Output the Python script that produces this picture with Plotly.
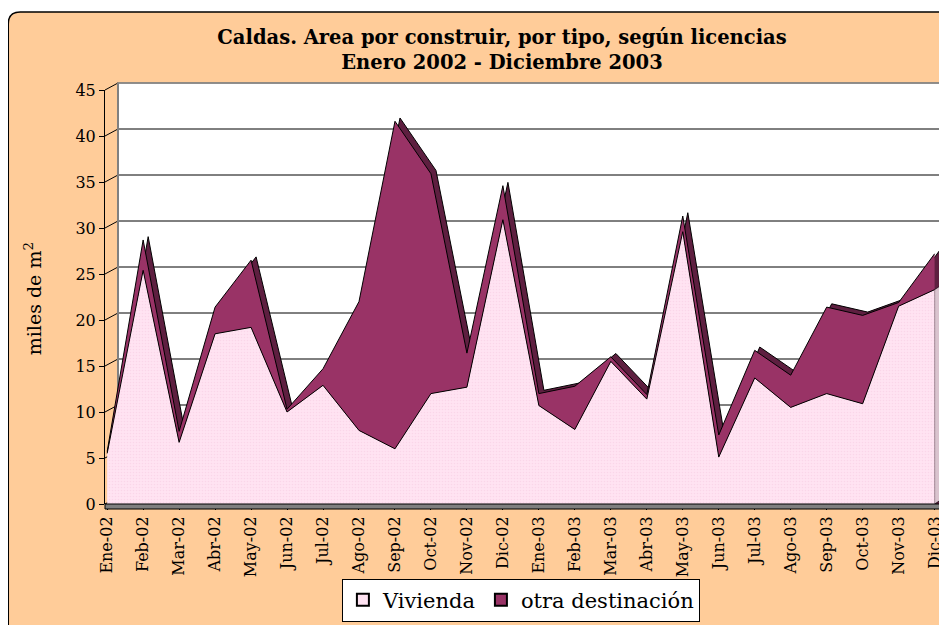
import plotly.graph_objects as go

# ---------------- data ----------------
meses = ["Ene-02", "Feb-02", "Mar-02", "Abr-02", "May-02", "Jun-02", "Jul-02", "Ago-02",
         "Sep-02", "Oct-02", "Nov-02", "Dic-02", "Ene-03", "Feb-03", "Mar-03", "Abr-03",
         "May-03", "Jun-03", "Jul-03", "Ago-03", "Sep-03", "Oct-03", "Nov-03", "Dic-03"]
vivienda = [5.5, 25.4, 6.7, 18.5, 19.2, 10.0, 12.9, 8.0, 6.0, 12.0, 12.7, 30.9,
            10.7, 8.1, 15.5, 11.4, 29.6, 5.1, 13.7, 10.5, 12.0, 10.9, 21.5, 23.3]
otra = [0.2, 3.3, 1.2, 2.9, 7.3, 0.3, 1.8, 14.0, 35.6, 23.9, 3.7, 3.7,
        1.3, 4.7, 0.5, 0.5, 1.7, 2.4, 3.0, 3.5, 9.4, 9.6, 0.4, 3.9]
ytick_vals = [0, 5, 10, 15, 20, 25, 30, 35, 40, 45]

titulo = "<b>Caldas. Area por construir, por tipo, según licencias<br>Enero 2002 - Diciembre 2003</b>"
ytitulo = "miles de m<sup>2</sup>"
serie_names = ["Vivienda", "otra destinación"]

# ---------------- geometry (reference-page pixels) ----------------
PW, PH = 947, 625          # page size
OFF = 8                    # default body margin of the html page
FW, FH = PW - OFF, PH - OFF
L, R, T, B = 104.8, 940.4, 90.0, 504.0
XMIN, XMAX = -0.06, 23.15
YMIN, YMAX = 0, 45
DX, DY = 13, 7            # depth of the back wall (px)
WALL_R = 944
SX, SY = 0.14, 0.36       # depth shift of the area's top face (data units)

def px(x):
    return (x - L) / (R - L)

def py(y):
    return (B - y) / (B - T)

def yv(v):  # pixel of value v on front plane
    return B - (v - YMIN) / (YMAX - YMIN) * (B - T)

FONT = "DejaVu Serif"
PEACH = "#FFCC99"
PINK = "#FFE3F2"
PINK_SIDE = "#D9C3CE"
PLUM = "#993366"
PLUM_DARK = "#5E1F40"

idx = list(range(len(meses)))
total = [v + o for v, o in zip(vivienda, otra)]

fig = go.Figure()

# 3D depth: top face of the stacked area (shifted copy of the total)
fig.add_trace(go.Scatter(
    x=[i + SX for i in idx], y=[t + SY for t in total],
    mode="lines", fill="tozeroy", fillcolor=PLUM_DARK,
    line=dict(color="black", width=1), showlegend=False, hoverinfo="skip"))
# right-end side face of the Vivienda layer
xe, ve = idx[-1], vivienda[-1]
fig.add_trace(go.Scatter(
    x=[xe, xe + SX, xe + SX, xe, xe], y=[0, SY, ve + SY, ve, 0],
    mode="lines", fill="toself", fillcolor=PINK_SIDE,
    line=dict(color="black", width=0.6), showlegend=False, hoverinfo="skip"))

fig.add_trace(go.Scatter(
    x=idx, y=vivienda, mode="lines", fill="tozeroy",
    fillcolor=PINK,
    fillpattern=dict(shape=".", size=3, solidity=0.25, fgcolor="#F6C9DF", bgcolor=PINK),
    line=dict(color="black", width=1), showlegend=False, hoverinfo="skip"))

fig.add_trace(go.Scatter(
    x=idx, y=total, mode="lines", fill="tonexty", fillcolor=PLUM,
    line=dict(color="black", width=1), showlegend=False, hoverinfo="skip"))

# legend-only entries with square symbols
for name, col in zip(serie_names, [PINK, PLUM]):
    fig.add_trace(go.Scatter(
        x=[None], y=[None], mode="markers", name=name,
        marker=dict(symbol="square", size=14, color=col, line=dict(color="black", width=1))))

shapes = []
# chart area rounded rectangle
r = 12
x0, y0, x1, y1 = 8, 12, PW + 10, PH + 10
path = (f"M {px(x0)},{py(y0 + r)} "
        f"Q {px(x0)},{py(y0)} {px(x0 + r)},{py(y0)} "
        f"L {px(x1)},{py(y0)} L {px(x1)},{py(y1)} L {px(x0)},{py(y1)} Z")
shapes.append(dict(type="path", path=path, xref="paper", yref="paper",
                   fillcolor=PEACH, line=dict(color="black", width=1.5), layer="below"))
# back wall
shapes.append(dict(type="rect", xref="paper", yref="paper",
                   x0=px(L + DX), x1=px(WALL_R), y0=py(B - DY), y1=py(T - DY),
                   fillcolor="white", line=dict(color="#808080", width=1.5), layer="below"))
# gridlines on the back wall + connectors on the side wall
for v in ytick_vals[1:]:
    y = yv(v) - DY
    shapes.append(dict(type="line", xref="paper", yref="paper",
                       x0=px(L + DX), x1=px(WALL_R), y0=py(y), y1=py(y),
                       line=dict(color="#808080" if v == YMAX else "black", width=1), layer="below"))
for v in ytick_vals:
    shapes.append(dict(type="line", xref="paper", yref="paper",
                       x0=px(L), x1=px(L + DX), y0=py(yv(v)), y1=py(yv(v) - DY),
                       line=dict(color="black", width=1), layer="below"))
# left wall edge
shapes.append(dict(type="line", xref="paper", yref="paper",
                   x0=px(L + DX), x1=px(L + DX), y0=py(B - DY), y1=py(T - DY),
                   line=dict(color="#808080", width=2), layer="below"))
# floor slab
shapes.append(dict(type="path", xref="paper", yref="paper",
                   path=(f"M {px(L)},{py(B)} L {px(R)},{py(B)} L {px(R)},{py(B + 5)} "
                         f"L {px(L)},{py(B + 5)} Z"),
                   fillcolor="#7F7F7F", line=dict(color="black", width=1), layer="above"))
shapes.append(dict(type="path", xref="paper", yref="paper",
                   path=(f"M {px(R)},{py(B)} L {px(WALL_R)},{py(B - DY + 1)} "
                         f"L {px(WALL_R)},{py(B - DY + 5)} L {px(R)},{py(B + 5)} Z"),
                   fillcolor="#A6A6A6", line=dict(color="black", width=1), layer="above"))

annotations = [dict(text=ytitulo, x=px(33), y=py(299), xref="paper", yref="paper",
                    xanchor="center", yanchor="middle", textangle=-90, showarrow=False,
                    font=dict(family=FONT, size=19, color="black"))]

fig.update_layout(
    width=FW, height=FH,
    margin=dict(l=L - OFF, r=PW - R, t=T - OFF, b=PH - B, autoexpand=False),
    paper_bgcolor="white", plot_bgcolor="rgba(0,0,0,0)",
    title=dict(text=titulo, x=(502 - OFF) / FW, xanchor="center",
               y=1 - (44 - OFF) / FH, yanchor="middle",
               font=dict(family=FONT, size=19.5, color="black")),
    xaxis=dict(range=[XMIN, XMAX], tickmode="array", tickvals=idx, ticktext=meses,
               tickangle=-90, ticks="outside", ticklen=5, tickcolor="black",
               showgrid=False, zeroline=False, showline=False,
               tickfont=dict(family=FONT, size=16, color="black")),
    yaxis=dict(range=[YMIN, YMAX], tickmode="array", tickvals=ytick_vals,
               ticks="outside", ticklen=5, tickcolor="black",
               showgrid=False, zeroline=False, showline=True, linecolor="black", linewidth=1,
               tickfont=dict(family=FONT, size=16, color="black")),
    legend=dict(orientation="h", x=px(521), xanchor="center", y=py(600), yanchor="middle",
                bgcolor="white", bordercolor="black", borderwidth=1, traceorder="normal",
                font=dict(family=FONT, size=21, color="black"), itemsizing="constant"),
    shapes=shapes, annotations=annotations, hovermode=False,
)

fig.write_html("out.html")
